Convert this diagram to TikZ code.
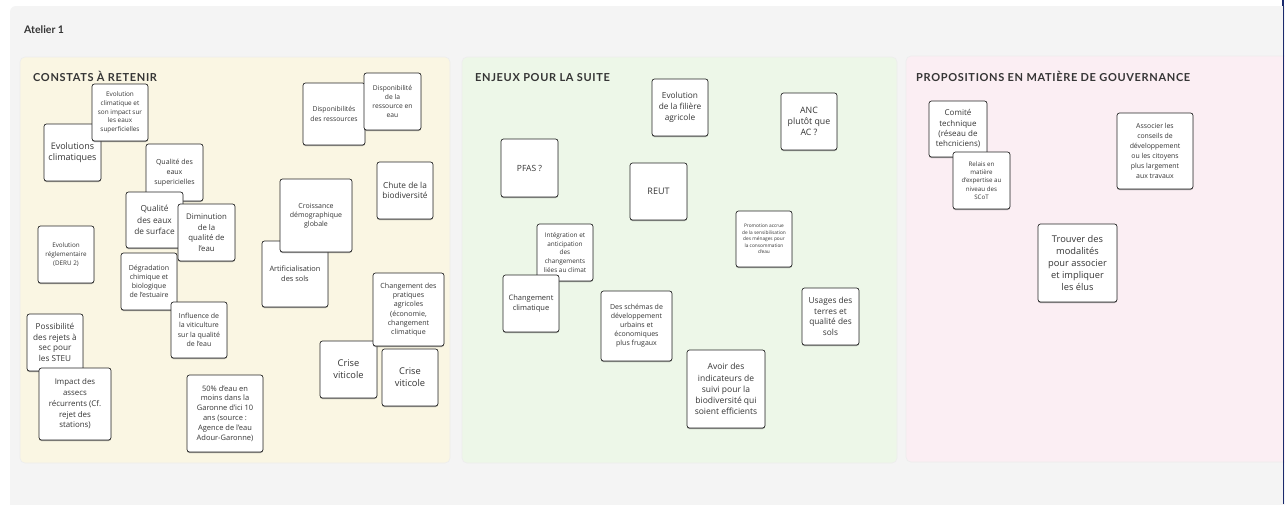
\documentclass[tikz,border=0pt]{standalone}
\usepackage{fontspec}
\setmainfont{Open Sans}
\newfontfamily\titlefont[LetterSpace=6]{Lato}
\newfontfamily\headfont{Lato}
\usetikzlibrary{shadows}
\definecolor{framegray}{HTML}{F4F4F4}
\definecolor{panelyellow}{HTML}{FAF6E3}
\definecolor{panelgreen}{HTML}{EDF7E8}
\definecolor{panelpink}{HTML}{FBEEF3}
\definecolor{inkgray}{HTML}{353535}
\definecolor{edgeblue}{HTML}{1A2A6C}
\newcommand\notebox[8]{%
  \node[note, minimum width={#4pt-#2pt}, minimum height={#5pt-#3pt},
        font={\fontsize{#6}{#7}\selectfont}] (#1) at ({(#2+#4)/2},{(#3+#5)/2}) {#8};}
\begin{document}
\begin{tikzpicture}[x=1pt,y=-1pt,
  note/.style={draw=black!85, fill=white, rounded corners=2.5pt, line width=0.7pt,
    align=center, text=inkgray, inner sep=0pt,
    drop shadow={shadow xshift=0pt, shadow yshift=-1pt, opacity=0.55, fill=black!70}},
  panel/.style={rounded corners=5pt, draw=black!7, line width=0.6pt},
  paneltitle/.style={anchor=base west, inner sep=0pt, text=inkgray,
    font={\titlefont\bfseries\fontsize{11}{13}\selectfont}}]
\useasboundingbox (0,0) rectangle (1285,504);
\fill[white] (0,0) rectangle (1285,504);
\fill[framegray, rounded corners=6pt] (10,6) rectangle (1300,520);
\node[anchor=base west, inner sep=0pt, text=inkgray,
  font={\headfont\bfseries\fontsize{10.5}{12}\selectfont}] (atelier) at (24,33) {Atelier 1};
% panels
\filldraw[panel, fill=panelyellow] (20,57) rectangle (450,463);
\filldraw[panel, fill=panelgreen] (462,57) rectangle (897,463);
\filldraw[panel, fill=panelpink] (906,56) rectangle (1300,462);
\node[paneltitle] (t1) at (33,81) {CONSTATS À RETENIR};
\node[paneltitle] (t2) at (475,81) {ENJEUX POUR LA SUITE};
\node[paneltitle] (t3) at (916,81) {PROPOSITIONS EN MATIÈRE DE GOUVERNANCE};
% left panel notes
\notebox{evols}{44}{124}{101}{181}{9}{11}{Evolutions\\climatiques}
\notebox{evclim}{92}{84}{148}{141}{6.4}{8.7}{Evolution\\climatique et\\son impact sur\\les eaux\\superficielles}
\notebox{qualsup}{146}{144}{203}{201}{7}{9.8}{Qualité des\\eaux\\supericielles}
\notebox{qualsurf}{126}{192}{183}{248}{8.3}{11.7}{Qualité\\des eaux\\de surface}
\notebox{dimin}{178}{204}{235}{261}{7.8}{10.5}{Diminution\\de la\\qualité de\\l'eau}
\notebox{regl}{38}{226}{94}{283}{6.3}{8.7}{Evolution\\réglementaire\\(DERU 2)}
\notebox{degr}{121}{253}{177}{310}{7}{9.1}{Dégradation\\chimique et\\biologique\\de l'estuaire}
\notebox{infl}{171}{302}{227}{358}{7}{9.5}{Influence de\\la viticulture\\sur la qualité\\de l'eau}
\notebox{poss}{27}{314}{83}{371}{8.2}{10.6}{Possibilité\\des rejets à\\sec pour\\les STEU}
\notebox{impact}{39}{368}{111}{440}{7.9}{10.7}{Impact des\\assecs\\récurrents (Cf.\\rejet des\\stations)}
\notebox{garonne}{187}{375}{263}{452}{7.5}{9.9}{50\% d'eau en\\moins dans la\\Garonne d'ici 10\\ans (source :\\Agence de l'eau\\Adour-Garonne)}
\notebox{dispos}{303}{83}{365}{145}{6.8}{10}{Disponibilités\\des ressources}
\notebox{dispo}{364}{73}{421}{130}{6.7}{9.3}{Disponibilité\\de la\\ressource en\\eau}
\notebox{chute}{377}{162}{433}{219}{8.3}{10.7}{Chute de la\\biodiversité}
\notebox{artif}{262}{241}{328}{307}{7.4}{10.3}{Artificialisation\\des sols}
\notebox{crois}{280}{179}{352}{252}{7}{9}{Croissance\\démographique\\globale}
\notebox{crise1}{320}{341}{377}{398}{9.3}{12}{Crise\\viticole}
\notebox{chang}{373}{273}{444}{346}{7.1}{9.3}{Changement des\\pratiques\\agricoles\\(économie,\\changement\\climatique}
\notebox{crise2}{382}{349}{438}{406}{9.3}{12}{Crise\\viticole}
% middle panel notes
\notebox{filiere}{652}{79}{708}{136}{8.3}{11}{Evolution\\de la filière\\agricole}
\notebox{pfas}{501}{139}{558}{197}{8.5}{10.5}{PFAS ?}
\notebox{reut}{630}{163}{687}{220}{9}{11}{REUT}
\notebox{anc}{781}{93}{837}{150}{8.8}{11.3}{ANC\\plutôt que\\AC ?}
\notebox{integ}{537}{224}{593}{281}{6.4}{8.8}{Intégration et\\anticipation\\des\\changements\\liées au climat}
\notebox{chclim}{503}{275}{559}{332}{7.5}{10}{Changement\\climatique}
\notebox{schemas}{601}{291}{672}{361}{7}{9}{Des schémas de\\développement\\urbains et\\économiques\\plus frugaux}
\notebox{promo}{736}{211}{792}{267}{4.8}{6.5}{Promotion accrue\\de la sensibilisation\\des ménages pour\\la consommation\\d'eau}
\notebox{usages}{802}{288}{859}{345}{8.3}{10.7}{Usages des\\terres et\\qualité des\\sols}
\notebox{avoir}{687}{350}{765}{428}{8.5}{11.1}{Avoir des\\indicateurs de\\suivi pour la\\biodiversité qui\\soient efficients}
% right panel notes
\notebox{comite}{929}{101}{987}{157}{8}{10.3}{Comité\\technique\\(réseau de\\tehcniciens)}
\notebox{relais}{953}{152}{1010}{209}{6.2}{8.3}{Relais en\\matière\\d'expertise au\\niveau des\\SCoT}
\notebox{trouver}{1038}{224}{1117}{302}{9.3}{11.8}{Trouver des\\modalités\\pour associer\\et impliquer\\les élus}
\notebox{associer}{1117}{113}{1193}{189}{6.9}{10}{Associer les\\conseils de\\développement\\ou les citoyens\\plus largement\\aux travaux}
% right edge line
\draw[edgeblue, line width=1.2pt] (1283.4,0) -- (1283.4,504);
\fill[edgeblue] (1282,0) rectangle (1284,6);
\end{tikzpicture}
\end{document}
